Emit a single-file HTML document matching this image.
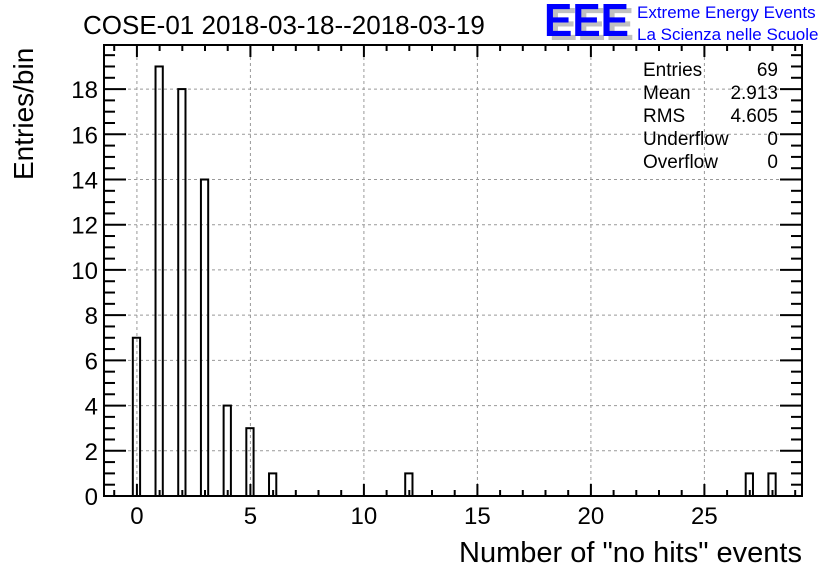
<!DOCTYPE html>
<html><head><meta charset="utf-8"><style>
body{margin:0;background:#fff;}
svg{display:block;font-family:"Liberation Sans",sans-serif;}
</style></head><body>
<svg id="chart" width="836" height="572" viewBox="0 0 836 572">
<rect width="836" height="572" fill="#fff"/>
<g id="grid"></g>
<g id="bars"></g>
<g id="axes"></g>
<text x="83" y="34" font-size="26">COSE-01 2018-03-18--2018-03-19</text>
<g>
<text x="549" y="40" font-size="46" fill="#c0c0c0" font-weight="bold" textLength="85" lengthAdjust="spacingAndGlyphs">EEE</text>
<text x="544" y="36" font-size="46" fill="#0000ff" font-weight="bold" textLength="85" lengthAdjust="spacingAndGlyphs">EEE</text>
<text x="637" y="18" font-size="17" fill="#0000ff">Extreme Energy Events</text>
<text x="637" y="40" font-size="17" fill="#0000ff">La Scienza nelle Scuole</text>
</g>
<g font-size="19">
<text x="643" y="76">Entries</text><text x="778" y="76" text-anchor="end">69</text>
<text x="643" y="99">Mean</text><text x="778" y="99" text-anchor="end">2.913</text>
<text x="643" y="122">RMS</text><text x="778" y="122" text-anchor="end">4.605</text>
<text x="643" y="145">Underflow</text><text x="778" y="145" text-anchor="end">0</text>
<text x="643" y="168">Overflow</text><text x="778" y="168" text-anchor="end">0</text>
</g>
<text transform="translate(33,180) rotate(-90)" font-size="28" text-anchor="start">Entries/bin</text>
<text x="802" y="562" font-size="29" text-anchor="end">Number of "no hits" events</text>
</svg>
<script>
const binValues = [0, 1, 2, 3, 4, 5, 6, 12, 27, 28];
const binCounts = [7, 19, 18, 14, 4, 3, 1, 1, 1, 1];
const xTicks = [0, 5, 10, 15, 20, 25];
const yTicks = [0, 2, 4, 6, 8, 10, 12, 14, 16, 18];
const X0=104, X1=802, Y0=496, Y1=45;
const xMin=-1.45, xMax=29.3, yMin=0, yMax=19.95;
const sx=v=>X0+(v-xMin)/(xMax-xMin)*(X1-X0);
const sy=v=>Y0-(v-yMin)/(yMax-yMin)*(Y0-Y1);
const NS="http://www.w3.org/2000/svg";
function mk(tag,attrs,parent){const e=document.createElementNS(NS,tag);for(const k in attrs)e.setAttribute(k,attrs[k]);parent.appendChild(e);return e;}
const grid=document.getElementById('grid'),bars=document.getElementById('bars'),axes=document.getElementById('axes');
xTicks.forEach(t=>{const l=mk('line',{x1:sx(t),x2:sx(t),y1:Y1,y2:Y0,stroke:'#999','stroke-dasharray':'3,3'},grid);

});
yTicks.forEach(t=>{if(t===0)return;const l=mk('line',{x1:X0,x2:X1,y1:sy(t),y2:sy(t),stroke:'#999','stroke-dasharray':'3,3'},grid);

});
binValues.forEach((v,i)=>{const a=v-0.18,b=v+0.14;
const r=mk('rect',{x:sx(a),y:sy(binCounts[i]),width:sx(b)-sx(a),height:Y0-sy(binCounts[i]),fill:'none',stroke:'#000','stroke-width':2},bars);

});
const fr=mk('rect',{x:X0,y:Y1,width:X1-X0,height:Y0-Y1,fill:'none',stroke:'#000','stroke-width':2},axes);


for(let v=-1;v<=29;v++){const maj=v%5===0;const L=maj?12:6;
mk('line',{x1:sx(v),x2:sx(v),y1:Y0,y2:Y0-L,stroke:'#000','stroke-width':2},axes);
mk('line',{x1:sx(v),x2:sx(v),y1:Y1,y2:Y1+L,stroke:'#000','stroke-width':2},axes);}
for(let v=0;v<=19.5;v+=0.5){const maj=v%2===0;const L=maj?22:11;
mk('line',{x1:X0,x2:X0+L,y1:sy(v),y2:sy(v),stroke:'#000','stroke-width':2},axes);
mk('line',{x1:X1,x2:X1-L,y1:sy(v),y2:sy(v),stroke:'#000','stroke-width':2},axes);}
xTicks.forEach(t=>{const e=mk('text',{x:sx(t),y:Y0+28,'font-size':24,'text-anchor':'middle'},axes);e.textContent=t;

});
yTicks.forEach(t=>{const e=mk('text',{x:X0-6,y:sy(t)+9,'font-size':24,'text-anchor':'end'},axes);e.textContent=t;

});
</script>
</body></html>
